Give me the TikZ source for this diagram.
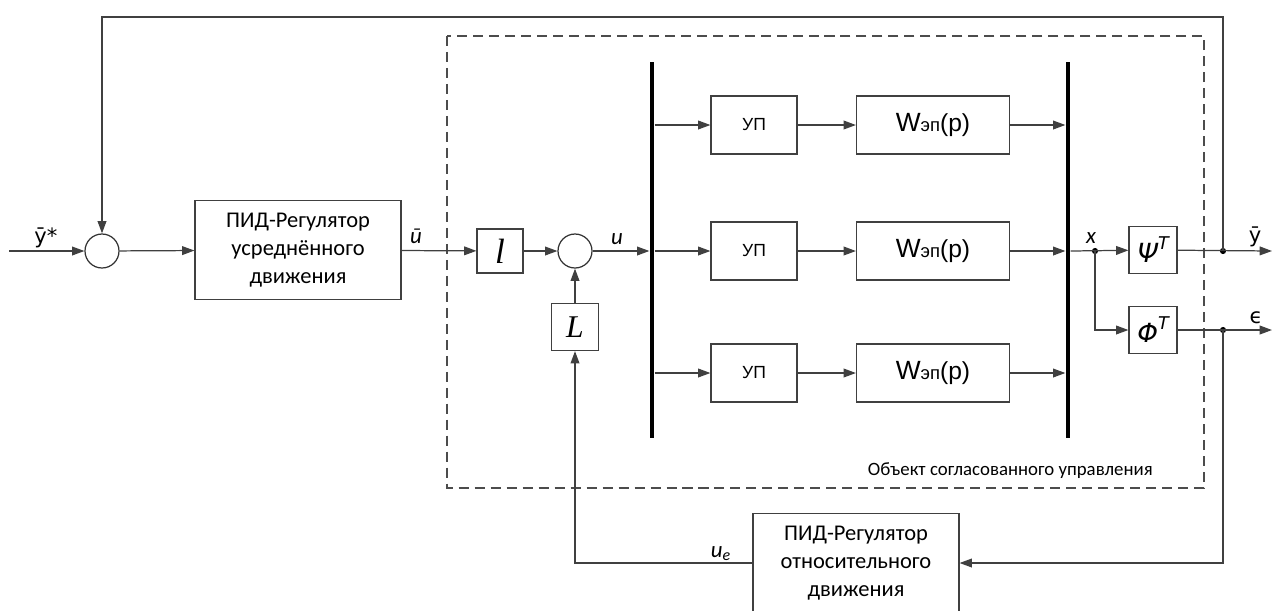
\documentclass[tikz,border=0pt]{standalone}
\usepackage{fontspec}
\setmainfont{Carlito}
\newfontfamily\arialf{Liberation Sans}
\newfontfamily\dejavu{DejaVu Sans}
\newfontfamily\timesf{Liberation Serif}
\usetikzlibrary{arrows.meta}
\tikzset{
  blk/.style={draw=black!75, line width=0.7pt, align=center, inner sep=0pt},
  pidblk/.style={blk, minimum width=4.12cm, minimum height=1.98cm, font=\fontsize{12.8}{16}\selectfont},
  summ/.style={draw=black!80, circle, line width=0.7pt, minimum size=0.68cm, inner sep=0pt},
  busbar/.style={fill=black, inner sep=0pt, minimum width=2.6pt, minimum height=7.52cm},
  sig/.style={draw=black!75, line width=0.7pt},
  jdot/.style={circle, fill=black, inner sep=0pt, minimum size=3.5pt},
  lbl/.style={inner sep=1pt, font=\itshape\fontsize{13}{13}\selectfont},
  >={Triangle[length=7pt,width=5pt]}
}
\begin{document}
\begin{tikzpicture}[x=0.02cm, y=-0.02cm]
\useasboundingbox (0,0) rectangle (1272,610);
% object boundary
\draw[black!70, line width=0.6pt, dash pattern=on 5.7pt off 3.4pt] (447,36) rectangle (1204,488);
\node[anchor=base east, inner sep=0pt, font=\fontsize{10.7}{10.7}\selectfont] (objlbl) at (1153,475) {Объект согласованного управления};

% blocks
\node[summ] (s1) at (102,251) {};
\node[pidblk] (pid1) at (298,250) {ПИД-Регулятор\\усреднённого\\движения};
\node[blk, minimum width=0.92cm, minimum height=0.88cm, font=\timesf\itshape\fontsize{20}{20}\selectfont] (lb) at (500,251) {l};
\node[summ] (s2) at (575,251) {};
\node[blk, minimum width=0.94cm, minimum height=0.94cm, font=\timesf\itshape\fontsize{18}{18}\selectfont] (Lb) at (575,327) {L};
\node[busbar] (bus1) at (652,250) {};
\node[busbar] (bus2) at (1068,250) {};
\foreach \r/\y in {1/125,2/251,3/373} {
  \node[blk, minimum width=1.72cm, minimum height=1.16cm, font=\arialf\fontsize{10}{10}\selectfont] (up\r) at (754,\y) {УП};
  \node[blk, minimum width=3.06cm, minimum height=1.16cm, font=\arialf] (w\r) at (933,\y)
    {\fontsize{15}{15}\selectfont W\fontsize{10.5}{10.5}\selectfont эп\fontsize{14}{14}\selectfont(p)};
  \draw[sig, ->] (bus1.east |- up\r.west) -- (up\r);
  \draw[sig, ->] (up\r) -- (w\r);
  \draw[sig, ->] (w\r) -- (bus2.west |- w\r.east);
}
\node[blk, minimum width=0.96cm, minimum height=0.94cm, font=\dejavu\itshape\fontsize{15}{15}\selectfont] (psi) at (1153,250) {Ψ\raisebox{0.9ex}{\fontsize{10}{10}\selectfont T}};
\node[blk, minimum width=0.96cm, minimum height=0.94cm, font=\dejavu\itshape\fontsize{15}{15}\selectfont] (phi) at (1153,330) {Φ\raisebox{0.9ex}{\fontsize{10}{10}\selectfont T}};
\node[pidblk] (pid2) at (856,563) {ПИД-Регулятор\\относительного\\движения};

% junctions and ends
\coordinate (in) at (9,251);
\node[jdot] (jx) at (1095,251) {};
\node[jdot] (jy) at (1223,251) {};
\node[jdot] (je) at (1223,330) {};
\coordinate (outy) at (1272,251);
\coordinate (oute) at (1272,330);
\coordinate (top) at (1223,17);

% connectors
\draw[sig, ->] (in) -- (s1);
\draw[sig, ->] (s1) -- (pid1);
\draw[sig, ->] (pid1) -- (lb);
\draw[sig, ->] (lb) -- (s2);
\draw[sig, ->] (s2) -- (bus1.west |- s2.east);
\draw[sig, ->] (Lb) -- (s2);
\draw[sig, ->] (bus2.east |- jx) -- (psi);
\draw[sig, ->] (jx.center) |- (phi);
\draw[sig, ->] (psi) -- (outy);
\draw[sig, ->] (phi) -- (oute);
\draw[sig, ->] (jy.center) -- (top) -| (s1);
\draw[sig, ->] (je.center) |- (pid2);
\draw[sig, ->] (pid2) -| (Lb);

% signal labels
\node[lbl, font=\dejavu\fontsize{12}{12}\selectfont] (ystar) at (46,238) {ȳ*};
\node[lbl] (ubar) at (416,236) {ū};
\node[lbl] (u) at (617,239) {u};
\node[lbl] (xl) at (1091,238) {x};
\node[lbl, font=\dejavu\fontsize{12}{12}\selectfont] (ybar) at (1255,237) {ȳ};
\node[lbl, font=\dejavu\fontsize{12}{12}\selectfont] (eps) at (1256,318) {ϵ};
\node[lbl] (ue) at (721,554) {u\textsubscript{e}};
\end{tikzpicture}
\end{document}
